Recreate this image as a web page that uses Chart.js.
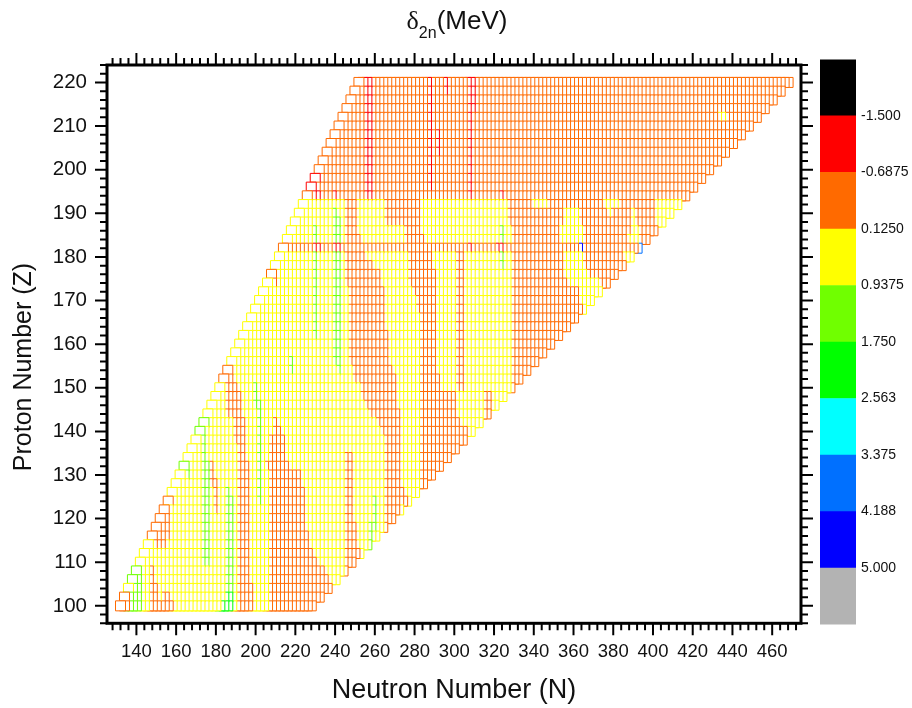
<!DOCTYPE html>
<html lang="en">
<head>
<meta charset="UTF-8">
<title>Two-neutron shell gap map</title>
<script src="https://cdn.jsdelivr.net/npm/chart.js"></script>
<style>
  html, body { margin: 0; padding: 0; background: #fff; }
  #wrap { position: relative; width: 912px; height: 708px; overflow: hidden; }
  #chart { position: absolute; left: 0; top: 0; }
  #bar { position: absolute; left: 820px; top: 46px; }
  #title {
    position: absolute; left: 357px; top: 4px; width: 200px; text-align: center;
    font: 26px "Liberation Sans", Arial, sans-serif; color: #111; line-height: 32px;
  }
  #title i { font-style: normal; font-family: "Liberation Serif", serif; }
  #title sub { font-size: 16px; line-height: 0; vertical-align: -9px; }
</style>
</head>
<body>
<div id="wrap">
  <canvas id="chart" width="912" height="708"></canvas>
  <canvas id="bar" width="92" height="592"></canvas>
  <div id="title"><i>&#948;</i><sub>2n</sub>(MeV)</div>
</div>

<script>
// rows of the nuclide map
var protonNumbers = [100,102,104,106,108,110,112,114,116,118,120,122,124,126,128,130,132,134,136,138,140,142,144,146,148,150,152,154,156,158,160,162,164,166,168,170,172,174,176,178,180,182,184,186,188,190,192,194,196,198,200,202,204,206,208,210,212,214,216,218,220];
var firstNeutron = [132,134,136,138,140,142,144,146,148,150,152,154,156,158,160,162,164,166,168,170,172,174,176,178,180,182,184,186,188,190,192,194,196,198,200,202,204,206,208,210,212,214,216,218,220,222,224,226,228,230,232,234,236,238,240,242,244,246,248,250,252];
var lastNeutron = [228,232,236,240,244,248,252,256,260,264,268,272,276,280,284,288,292,296,300,304,308,312,316,320,324,328,332,336,340,344,348,352,356,360,364,368,372,376,380,384,388,392,396,400,404,408,412,416,420,424,428,432,436,440,444,448,452,456,460,464,468];

// colour bar, bottom to top
var barColors = ['#b3b3b3','#0000ff','#0070ff','#00ffff','#00ff00','#70ff00','#ffff00','#ff6a00','#ff0000','#000000'];
var barLabels = ['','5.000','4.188','3.375','2.563','1.750','0.9375','0.1250','-0.6875','-1.500',''];

// rows that are orange from end to end
var orangeRows = [182,194,196,198,200,202,204,206,208,210,212,214,216,218,220];

// patches: [Z from, Z to, N from, N to]
var orangeRuns = [
  [188,192,326,412],[184,186,328,400],
  [186,192,244,248],[184,184,244,250],[188,192,264,280],[186,186,274,280],[184,184,274,282],
  [180,180,244,252],[178,178,244,256],[174,176,244,260],[164,172,246,262],[156,162,246,264],
  [154,154,248,266],[152,152,248,268],[148,150,252,268],[146,146,254,268],[144,144,256,270],
  [142,142,260,270],[140,140,262,270],[128,138,264,270],[126,126,264,272],[124,124,264,274],
  [122,122,264,270],[120,120,264,268],[118,118,264,264],
  [178,180,276,286],[174,176,276,288],[172,172,278,288],[168,170,280,288],[154,166,282,288],
  [150,152,282,290],[144,148,282,298],[142,142,282,300],[138,140,282,304],[136,136,282,300],
  [134,134,282,296],[132,132,282,292],[130,130,282,288],[128,128,282,284],
  [150,180,300,302],[150,180,328,400],[144,148,314,316],
  [154,154,186,186],[152,152,184,186],[150,150,184,188],[144,148,184,190],[138,142,188,192],
  [134,136,190,192],[106,132,190,194],[100,104,190,196],
  [100,100,206,228],[102,102,206,232],[104,104,206,236],[106,106,206,234],[108,108,206,232],
  [110,110,206,228],[112,112,206,226],[114,116,206,224],[118,126,206,222],[128,130,206,220],
  [132,132,204,214],[134,138,206,212],[140,140,208,210],[142,142,208,208],
  [120,134,244,246],[110,118,244,248],[112,112,244,250],[108,108,244,244],
  [100,100,132,134],[102,102,134,134],[100,102,146,148],[100,100,146,156],[102,102,152,154],
  [104,104,146,148],[106,108,146,146],
  [114,114,148,152],[116,116,148,154],[118,118,150,154],[120,120,152,154],[122,122,154,154],[124,124,156,156],
  [128,132,176,176],[122,128,178,178],[174,176,208,208]
];
var yellowRuns = [
  [192,192,338,344],[192,192,374,380],[190,190,376,376],[192,192,400,412],[190,190,400,408],
  [188,188,400,404],[188,190,354,360],[184,186,352,362],[188,190,388,388],[186,186,388,390],
  [184,184,386,390],[180,180,384,388],[178,180,354,362],[176,176,354,364],[174,174,356,370],
  [172,172,362,372],[170,170,362,368],[168,168,364,364],[212,212,432,434]
];
var limeRuns = [
  [156,190,238,238],[154,188,240,240],[162,186,228,228],[154,156,216,216],[178,186,322,322],
  [124,146,200,200],[146,150,198,198],[110,140,172,172],[110,132,174,174],[142,142,174,174],
  [130,132,164,164],[100,102,136,140],[104,106,138,140],[108,108,140,140],
  [104,126,184,184],[104,124,186,186],[118,124,258,258],[114,118,256,256]
];
var greenRuns = [[100,102,184,186],[100,100,182,182]];
var redRuns = [
  [194,220,254,256],[196,220,286,286],[204,208,290,290],[218,220,294,294],[194,220,306,306],
  [214,220,308,308],[194,194,322,322],[196,196,228,228],[198,198,230,230],[194,194,228,230],
  [194,194,238,238],[182,182,228,230],[182,182,238,240],[182,182,306,306],[182,182,320,322]
];
var blueRuns = [[182,182,392,392]];
var darkBlueRuns = [[182,182,362,362]];

var xLabelStep = 20, yLabelStep = 10;

// every nuclide starts yellow, then the patches go on top
var cellColor = {};
protonNumbers.forEach(function(z, i) {
  for (var n = firstNeutron[i]; n <= lastNeutron[i]; n += 2) {
    cellColor[z + '_' + n] = orangeRows.indexOf(z) >= 0 ? '#ff6a00' : '#ffff00';
  }
});

function paint(runs, color) {
  runs.forEach(function(r) {
    for (var z = r[0]; z <= r[1]; z += 2) {
      for (var n = r[2]; n <= r[3]; n += 2) {
        if (cellColor[z + '_' + n]) cellColor[z + '_' + n] = color;
      }
    }
  });
}
paint(orangeRuns, '#ff6a00');
paint(yellowRuns, '#ffff00');
paint(limeRuns, '#70ff00');
paint(greenRuns, '#00ff00');
paint(redRuns, '#ff0000');
paint(blueRuns, '#0070ff');
paint(darkBlueRuns, '#0000ff');

// white filled squares overlap, so big N has to go down first
var points = [];
Object.keys(cellColor).forEach(function(key) {
  var parts = key.split('_');
  points.push({ x: +parts[1], y: +parts[0], c: cellColor[key] });
});
points.sort(function(a, b) { return b.x - a.x || b.y - a.y; });

var frameAndTicks = {
  id: 'frameAndTicks',
  afterDraw: function(chart) {
    var ctx = chart.ctx, a = chart.chartArea;
    var xs = chart.scales.x, ys = chart.scales.y;
    ctx.save();
    ctx.strokeStyle = '#000';
    ctx.lineWidth = 2;
    ctx.beginPath();
    xs.ticks.forEach(function(t) {
      var p = xs.getPixelForValue(t.value);
      var len = t.value % xLabelStep === 0 ? 12 : 7;
      ctx.moveTo(p, a.bottom); ctx.lineTo(p, a.bottom + len);
      ctx.moveTo(p, a.top); ctx.lineTo(p, a.top - len);
    });
    ys.ticks.forEach(function(t) {
      var p = ys.getPixelForValue(t.value);
      var len = t.value % yLabelStep === 0 ? 12 : 7;
      ctx.moveTo(a.left, p); ctx.lineTo(a.left - len, p);
      ctx.moveTo(a.right, p); ctx.lineTo(a.right + len, p);
    });
    ctx.stroke();
    ctx.lineWidth = 3;
    ctx.strokeRect(a.left, a.top, a.right - a.left, a.bottom - a.top);

    // sits lower than the middle of the axis in the original
    ctx.translate(24, 367);
    ctx.rotate(-Math.PI / 2);
    ctx.fillStyle = '#111';
    ctx.font = '25px "Liberation Sans"';
    ctx.textAlign = 'center';
    ctx.textBaseline = 'middle';
    ctx.fillText('Proton Number (Z)', 0, 0);
    ctx.restore();
  }
};

new Chart(document.getElementById('chart'), {
  type: 'scatter',
  data: {
    datasets: [{
      data: points,
      pointStyle: 'rect',
      pointRadius: 7.07,
      pointBorderWidth: 1,
      pointBackgroundColor: '#fff',
      pointBorderColor: points.map(function(p) { return p.c; })
    }]
  },
  options: {
    responsive: false,
    animation: false,
    events: [],
    layout: { padding: { top: 65, right: 111, left: 0, bottom: 0 } },
    plugins: { legend: { display: false }, tooltip: { enabled: false } },
    scales: {
      x: {
        min: 125.2, max: 474.5,
        afterFit: function(s) { s.height = 84.7; },
        grid: { display: false, drawTicks: false },
        border: { display: false },
        ticks: {
          stepSize: 4, includeBounds: false, autoSkip: false, maxRotation: 0, padding: 18,
          color: '#111', font: { family: '"Liberation Sans"', size: 18.5 },
          callback: function(v) { return v % xLabelStep === 0 ? String(v) : ''; }
        },
        title: { display: true, text: 'Neutron Number (N)', color: '#111', padding: { top: 0, bottom: 1 },
          font: { family: '"Liberation Sans"', size: 27 } }
      },
      y: {
        min: 96, max: 224,
        afterFit: function(s) { s.width = 107; },
        grid: { display: false, drawTicks: false },
        border: { display: false },
        ticks: {
          stepSize: 2, includeBounds: false, autoSkip: false, padding: 20,
          color: '#111', font: { family: '"Liberation Sans"', size: 20.5 },
          callback: function(v) { return v % yLabelStep === 0 ? String(v) : ''; }
        }
      }
    }
  },
  plugins: [frameAndTicks]
});

// colour bar as a stacked bar with its own axis
new Chart(document.getElementById('bar'), {
  type: 'bar',
  data: {
    labels: [''],
    datasets: barColors.map(function(c) {
      return { data: [1], backgroundColor: c, barPercentage: 1, categoryPercentage: 1, stack: 'bar' };
    })
  },
  options: {
    responsive: false,
    animation: false,
    events: [],
    plugins: { legend: { display: false }, tooltip: { enabled: false } },
    scales: {
      x: { stacked: true, display: false },
      y: {
        stacked: true, position: 'right', min: 0, max: 10,
        afterFit: function(s) { s.width = 56; },
        grid: { display: false, drawTicks: false },
        border: { display: false },
        ticks: {
          stepSize: 1, autoSkip: false, padding: 5, color: '#111',
          font: { family: '"Liberation Sans"', size: 14 },
          callback: function(v) { return barLabels[v]; }
        }
      }
    }
  }
});
</script>
</body>
</html>
